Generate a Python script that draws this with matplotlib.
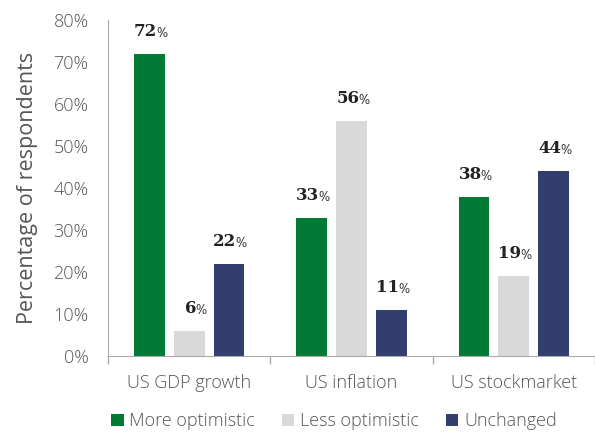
import numpy as np
import matplotlib
matplotlib.use('Agg')
import matplotlib.pyplot as plt

categories = ['US GDP growth', 'US inflation', 'US stockmarket']
more_optimistic = [72, 33, 38]
less_optimistic = [6, 56, 19]
unchanged = [22, 11, 44]
series_names = ['More optimistic', 'Less optimistic', 'Unchanged']
colors = ['#017a36', '#d9d9d9', '#323e6e']

plt.rcParams['font.family'] = ['Open Sans', 'DejaVu Sans']
plt.rcParams['font.weight'] = 'light'

fig = plt.figure(figsize=(5.95, 4.37), dpi=100)
ax = fig.add_axes([0.1815, 0.185, 0.8185, 0.769])

x = np.arange(len(categories))
width = 0.19
step = 0.245

for i, (vals, name, col) in enumerate(zip([more_optimistic, less_optimistic, unchanged], series_names, colors)):
    pos = x + (i - 1) * step
    ax.bar(pos, vals, width=width, color=col, label=name)
    for p, v in zip(pos, vals):
        # number in bold serif, percent sign a bit smaller
        ax.annotate(str(v), (p, v), xytext=(5.5, 10), textcoords='offset points',
                    ha='right', va='bottom', fontsize=12, fontweight='bold',
                    family='DejaVu Serif', color='#222222')
        ax.annotate('%', (p, v), xytext=(4.8, 10), textcoords='offset points',
                    ha='left', va='bottom', fontsize=8.5,
                    family='DejaVu Serif', color='#222222')

ax.set_xlim(-0.5, 2.5)
ax.set_ylim(0, 80)
ax.set_yticks(range(0, 81, 10))
ax.set_yticklabels([f'{t}%' for t in range(0, 81, 10)])
ax.tick_params(axis='y', length=0, pad=14, labelsize=13, labelcolor='#555555')

ax.set_xticks(x)
ax.set_xticklabels(categories)
ax.tick_params(axis='x', which='major', length=0, pad=13, labelsize=13, labelcolor='#555555')
ax.set_xticks([-0.5, 0.5, 1.5, 2.5], minor=True)
ax.tick_params(axis='x', which='minor', length=6, color='#aaaaaa', width=1)

for s in ['top', 'right']:
    ax.spines[s].set_visible(False)
ax.spines['left'].set_color('#aaaaaa')
ax.spines['bottom'].set_color('#aaaaaa')

ax.set_ylabel('Percentage of respondents', fontsize=15.5, color='#555555', labelpad=11)

fig.legend(loc='lower center', bbox_to_anchor=(0.561, -0.022), ncol=3, frameon=False,
           fontsize=13, handlelength=0.7, handleheight=0.7, handletextpad=0.3,
           columnspacing=1.5, labelcolor='#555555')

fig.savefig('out.png', dpi=100)
